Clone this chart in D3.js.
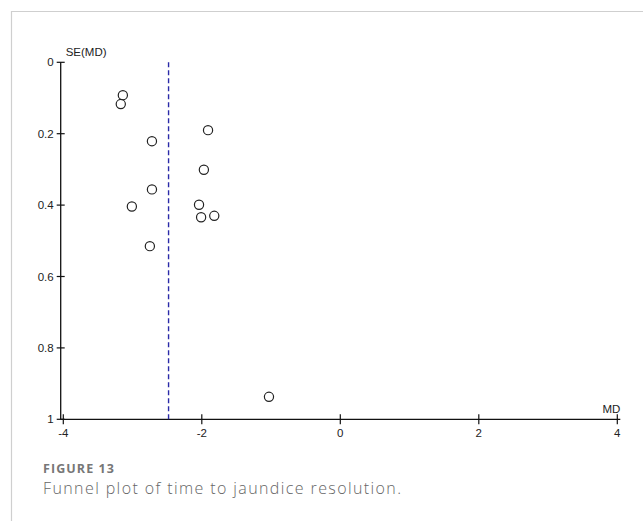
<!DOCTYPE html>
<html>
<head>
<meta charset="utf-8">
<script src="https://cdn.jsdelivr.net/npm/d3@7"></script>
<style>
  html, body { margin: 0; padding: 0; background: #fff; }
  svg { display: block; }
</style>
</head>
<body>
<svg id="chart" width="643" height="521"></svg>
<script>
// Study estimates: mean difference (MD) and its standard error
const studyMD = [-3.14, -3.17, -1.91, -2.72, -1.97, -2.72, -3.01, -2.04, -2.01, -1.82, -2.75, -1.03];
const studySE = [0.092, 0.117, 0.190, 0.221, 0.301, 0.356, 0.404, 0.399, 0.434, 0.430, 0.515, 0.937];
const pooledMD = -2.48;
const xTicks = [-4, -2, 0, 2, 4];
const yTicks = [0, 0.2, 0.4, 0.6, 0.8, 1];
const xAxisTitle = "MD";
const yAxisTitle = "SE(MD)";
const figureLabel = "FIGURE 13";
const figureCaption = "Funnel plot of time to jaundice resolution.";

const svg = d3.select("#chart");

// frame around the figure
svg.append("path")
  .attr("d", "M11.5,521 V11.5 H643")
  .attr("fill", "none")
  .attr("stroke", "#cfcfcf")
  .attr("stroke-width", 1.2);

const x = d3.scaleLinear().domain([-4, 4]).range([63.3, 617.3]);
const y = d3.scaleLinear().domain([0, 1]).range([62.3, 419.3]);
const axisX0 = 60.7;
const axisY = y(1);

const axisColor = "#111";
const labelFont = "Arial, 'Liberation Sans', sans-serif";

// y axis
const gy = svg.append("g");
gy.append("line")
  .attr("x1", axisX0).attr("x2", axisX0)
  .attr("y1", y(0)).attr("y2", axisY)
  .attr("stroke", axisColor).attr("stroke-width", 1.3);
gy.selectAll("line.tick").data(yTicks).join("line")
  .attr("class", "tick")
  .attr("x1", axisX0 - 4).attr("x2", axisX0 + 4)
  .attr("y1", d => y(d)).attr("y2", d => y(d))
  .attr("stroke", axisColor).attr("stroke-width", 1.2);
gy.selectAll("text.tl").data(yTicks).join("text")
  .attr("class", "tl")
  .attr("x", axisX0 - 7)
  .attr("y", d => y(d) + 4)
  .attr("text-anchor", "end")
  .attr("font-family", labelFont)
  .attr("font-size", 11.5)
  .attr("fill", "#222")
  .text(d => d3.format("~g")(d));
gy.append("text")
  .attr("x", axisX0 + 5)
  .attr("y", y(0) - 6)
  .attr("font-family", labelFont)
  .attr("font-size", 11.5)
  .attr("fill", "#222")
  .text(yAxisTitle);

// x axis
const gx = svg.append("g");
gx.append("line")
  .attr("x1", axisX0).attr("x2", x(4) + 3)
  .attr("y1", axisY).attr("y2", axisY)
  .attr("stroke", axisColor).attr("stroke-width", 1.3);
gx.selectAll("line.tick").data(xTicks).join("line")
  .attr("class", "tick")
  .attr("x1", d => x(d)).attr("x2", d => x(d))
  .attr("y1", axisY - 5).attr("y2", axisY + 5)
  .attr("stroke", axisColor).attr("stroke-width", 1.2);
gx.selectAll("text.tl").data(xTicks).join("text")
  .attr("class", "tl")
  .attr("x", d => x(d))
  .attr("y", axisY + 18)
  .attr("text-anchor", "middle")
  .attr("font-family", labelFont)
  .attr("font-size", 11.5)
  .attr("fill", "#222")
  .text(d => d < 0 ? "-" + Math.abs(d) : d);
gx.append("text")
  .attr("x", x(4) + 3)
  .attr("y", axisY - 6)
  .attr("text-anchor", "end")
  .attr("font-family", labelFont)
  .attr("font-size", 11.5)
  .attr("fill", "#222")
  .text(xAxisTitle);

// pooled estimate reference line
svg.append("line")
  .attr("x1", x(pooledMD)).attr("x2", x(pooledMD))
  .attr("y1", y(0)).attr("y2", axisY)
  .attr("stroke", "#2a2aa8")
  .attr("stroke-width", 1.4)
  .attr("stroke-dasharray", "5,3");

// study points
svg.append("g").selectAll("circle")
  .data(studyMD.map((md, i) => ({ md, se: studySE[i] })))
  .join("circle")
  .attr("cx", d => x(d.md))
  .attr("cy", d => y(d.se))
  .attr("r", 4.6)
  .attr("fill", "none")
  .attr("stroke", "#222")
  .attr("stroke-width", 1.2);

// caption
svg.append("text")
  .attr("x", 43)
  .attr("y", 473)
  .attr("font-family", "'Open Sans', sans-serif")
  .attr("font-weight", 700)
  .attr("font-size", 12.5)
  .attr("fill", "#777")
  .attr("textLength", 71)
  .attr("lengthAdjust", "spacing")
  .text(figureLabel);
svg.append("text")
  .attr("x", 43)
  .attr("y", 494)
  .attr("font-family", "'Open Sans', sans-serif")
  .attr("font-weight", 300)
  .attr("font-size", 16)
  .attr("fill", "#666")
  .attr("textLength", 358)
  .attr("lengthAdjust", "spacing")
  .text(figureCaption);
</script>
</body>
</html>
